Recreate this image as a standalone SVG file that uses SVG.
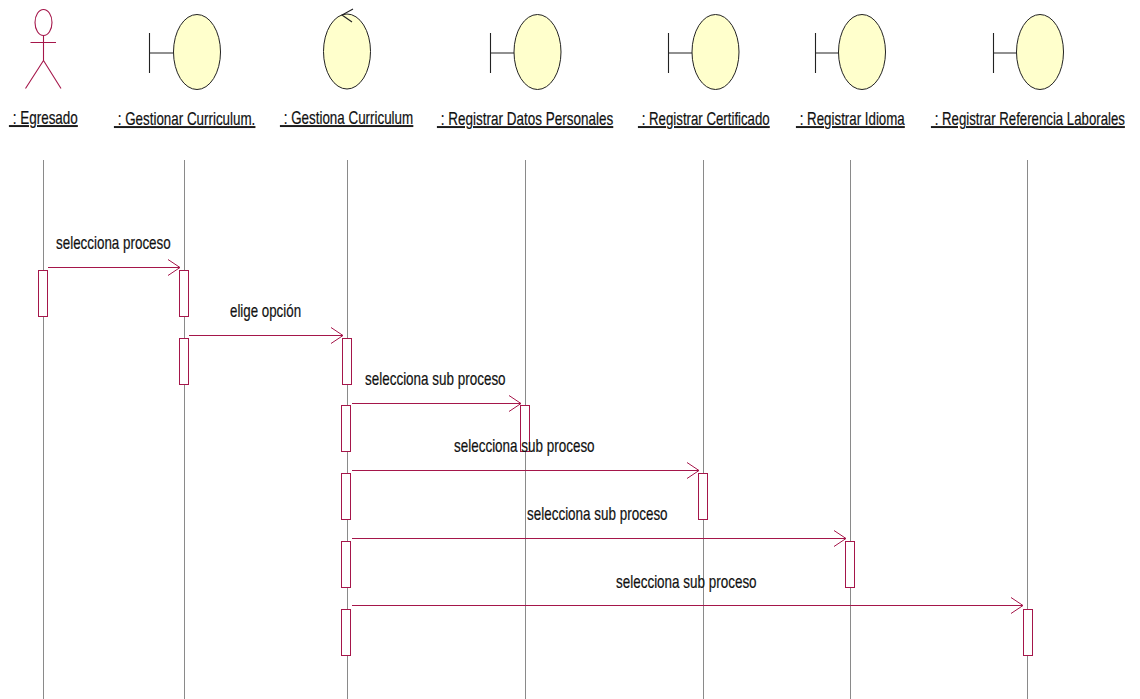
<svg xmlns="http://www.w3.org/2000/svg" width="1140" height="699" viewBox="0 0 1140 699">
<style>
text{font-family:"Liberation Sans",Arial,sans-serif;font-size:18px;fill:#111;stroke:#111;stroke-width:.2}
.u{text-decoration:underline}
.ll{stroke:#8a8a8a;stroke-width:1;fill:none}
.act{fill:#fff;stroke:#a5164a;stroke-width:1}
.msg{stroke:#a5164a;stroke-width:1.2;fill:none;marker-end:url(#a)}
.b{fill:#ffffcc;stroke:#222;stroke-width:1}
.l{stroke:#222;stroke-width:1.1;fill:none}
.m{stroke:#a5164a;stroke-width:1.1;fill:none}
</style>
<defs><marker id="a" markerUnits="userSpaceOnUse" markerWidth="14" markerHeight="18" refX="13" refY="9" orient="auto"><path d="M1 1L13 9L1 17" fill="none" stroke="#a5164a" stroke-width="1"/></marker></defs>
<rect width="1140" height="699" fill="#fff"/>
<g id="lifelines">
<path class="ll" d="M43.500 160V699M184.500 160V699M347.500 160V699M525.500 160V699M703.500 160V699M850.500 160V699M1027.500 160V699"/>
</g>
<g id="n1"><ellipse class="m" cx="43.500" cy="22.500" rx="8.500" ry="13"/><path class="m" d="M43.500 35.500V60.500M30.500 42.500H56M43.500 60.500L25.500 88.500M43.500 60.500L61 88.500"/><text class="u" transform="translate(9 124) scale(.74 1)" textLength="93" lengthAdjust="spacingAndGlyphs">&#160;: Egresado</text></g>
<g id="n2"><path class="l" d="M149.500 33V73M149.500 53H173"/><ellipse class="b" cx="197" cy="52" rx="23.500" ry="37.500"/><text class="u" transform="translate(114 125) scale(.74 1)" textLength="191" lengthAdjust="spacingAndGlyphs">&#160;: Gestionar Curriculum.</text></g>
<g id="n3"><ellipse class="b" cx="347" cy="51.500" rx="23.500" ry="37.500"/><path class="l" d="M353 9L342 15L352 22"/><text class="u" transform="translate(280 124) scale(.74 1)" textLength="180" lengthAdjust="spacingAndGlyphs">&#160;: Gestiona Curriculum</text></g>
<g id="n4"><path class="l" d="M490.500 33V73M490.500 53H514"/><ellipse class="b" cx="537.500" cy="52" rx="23.500" ry="37.500"/><text class="u" transform="translate(437 125) scale(.74 1)" textLength="238" lengthAdjust="spacingAndGlyphs">&#160;: Registrar Datos Personales</text></g>
<g id="n5"><path class="l" d="M668.500 33V73M668.500 53H692"/><ellipse class="b" cx="715.500" cy="52" rx="23.500" ry="37.500"/><text class="u" transform="translate(638 125) scale(.74 1)" textLength="178" lengthAdjust="spacingAndGlyphs">&#160;: Registrar Certificado</text></g>
<g id="n6"><path class="l" d="M815.500 33V73M815.500 53H839"/><ellipse class="b" cx="862" cy="52" rx="23.500" ry="37.500"/><text class="u" transform="translate(796 125) scale(.74 1)" textLength="147" lengthAdjust="spacingAndGlyphs">&#160;: Registrar Idioma</text></g>
<g id="n7"><path class="l" d="M993.500 33V73M993.500 53H1017"/><ellipse class="b" cx="1040" cy="52" rx="23.500" ry="37.500"/><text class="u" transform="translate(931 125) scale(.74 1)" textLength="262" lengthAdjust="spacingAndGlyphs">&#160;: Registrar Referencia Laborales</text></g>
<g id="activations">
<rect class="act" x="38.500" y="270.500" width="9" height="46"/>
<rect class="act" x="179.500" y="270.500" width="9" height="46"/>
<rect class="act" x="179.500" y="338.500" width="9" height="46"/>
<rect class="act" x="342.500" y="338.500" width="9" height="46"/>
<rect class="act" x="341.500" y="405.500" width="9" height="46"/>
<rect class="act" x="520.500" y="405.500" width="9" height="46"/>
<rect class="act" x="341.500" y="473.500" width="9" height="46"/>
<rect class="act" x="698.500" y="473.500" width="9" height="46"/>
<rect class="act" x="341.500" y="541.500" width="9" height="46"/>
<rect class="act" x="845.500" y="541.500" width="9" height="46"/>
<rect class="act" x="341.500" y="609.500" width="9" height="46"/>
<rect class="act" x="1023.500" y="609.500" width="9" height="46"/>
</g>
<g id="connectors">
<path class="msg" d="M48 267.500H180"/>
<path class="msg" d="M189 335.500H343"/>
<path class="msg" d="M352 403.500H521"/>
<path class="msg" d="M352 470.500H699"/>
<path class="msg" d="M352 538.500H846"/>
<path class="msg" d="M352 605.500H1023"/>
</g>
<g id="labels">
<text transform="translate(56 249) scale(.74 1)" textLength="155" lengthAdjust="spacingAndGlyphs">selecciona proceso</text>
<text transform="translate(230 317) scale(.74 1)" textLength="96" lengthAdjust="spacingAndGlyphs">elige opción</text>
<text transform="translate(365 385) scale(.74 1)" textLength="190" lengthAdjust="spacingAndGlyphs">selecciona sub proceso</text>
<text transform="translate(454 452) scale(.74 1)" textLength="190" lengthAdjust="spacingAndGlyphs">selecciona sub proceso</text>
<text transform="translate(527 520) scale(.74 1)" textLength="190" lengthAdjust="spacingAndGlyphs">selecciona sub proceso</text>
<text transform="translate(616 588) scale(.74 1)" textLength="190" lengthAdjust="spacingAndGlyphs">selecciona sub proceso</text>
</g>
</svg>
